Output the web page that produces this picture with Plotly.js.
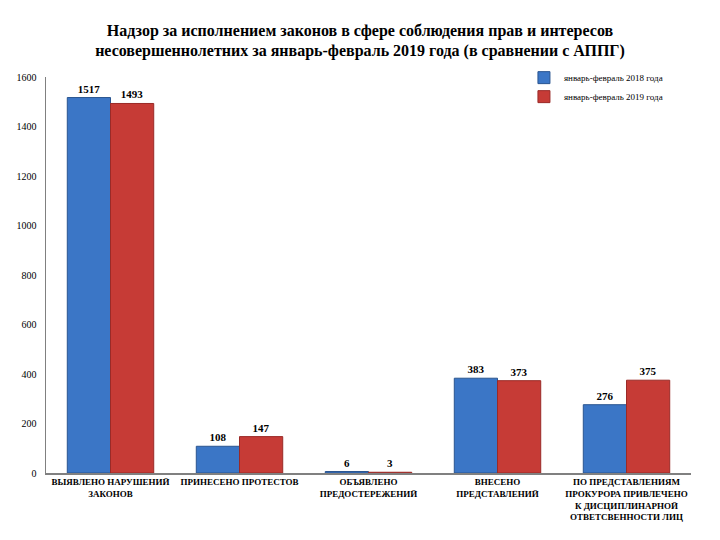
<!DOCTYPE html>
<html><head><meta charset="utf-8">
<script src="https://cdn.plot.ly/plotly-3.0.1.min.js"></script>
<style>body{margin:0;background:#fff}#chart{width:720px;height:540px}</style>
</head><body><div id="chart"></div>
<script>
const categories = [
  "ВЫЯВЛЕНО НАРУШЕНИЙ<br>ЗАКОНОВ",
  "ПРИНЕСЕНО ПРОТЕСТОВ",
  "ОБЪЯВЛЕНО<br>ПРЕДОСТЕРЕЖЕНИЙ",
  "ВНЕСЕНО<br>ПРЕДСТАВЛЕНИЙ",
  "ПО ПРЕДСТАВЛЕНИЯМ<br>ПРОКУРОРА ПРИВЛЕЧЕНО<br>К ДИСЦИПЛИНАРНОЙ<br>ОТВЕТСВЕННОСТИ ЛИЦ"
];
const series2018 = [1517, 108, 6, 383, 276];
const series2019 = [1493, 147, 3, 373, 375];
const seriesNames = ["январь-февраль 2018 года", "январь-февраль 2019 года"];
const yTicks = [0, 200, 400, 600, 800, 1000, 1200, 1400, 1600];

const serif = "Liberation Serif";
const mk = (y, name, color, line) => ({
  type: "bar", x: categories, y: y, name: name,
  marker: {color: color, line: {color: line, width: 1}},
  text: y.map(String), textposition: "outside", cliponaxis: false,
  textfont: {family: serif, size: 11, color: "#000", weight: "bold"}
});
const data = [
  mk(series2018, seriesNames[0], "#3b76c6", "#2a5590"),
  mk(series2019, seriesNames[1], "#c63b36", "#9a2a27")
];
const layout = {
  width: 720, height: 540,
  margin: {l: 46, r: 29, t: 77, b: 67},
  paper_bgcolor: "#fff", plot_bgcolor: "#fff",
  font: {family: serif},
  title: {
    text: "<b>Надзор за исполнением законов в сфере соблюдения прав и интересов<br>несовершеннолетних за январь-февраль 2019 года (в сравнении с АППГ)</b>",
    font: {family: serif, size: 16, color: "#000"},
    x: 0.5, xanchor: "center", y: 0.934, yanchor: "top"
  },
  bargap: 0.33, bargroupgap: 0,
  xaxis: {
    showline: true, linecolor: "#808080", linewidth: 1.5,
    tickfont: {family: serif, size: 9, color: "#000", weight: "bold"},
    ticks: "", automargin: false, tickangle: 0
  },
  yaxis: {
    range: [0, 1600], tickvals: yTicks, showgrid: false, zeroline: false,
    showline: true, linecolor: "#808080", linewidth: 1.5,
    tickfont: {family: serif, size: 10, color: "#000"},
    ticks: "", ticklabelstandoff: 6, automargin: false
  },
  legend: {
    x: 0.741, y: 1.035, xanchor: "left", yanchor: "top",
    font: {family: serif, size: 9, color: "#000"},
    tracegroupgap: 0, itemwidth: 30, bgcolor: "rgba(0,0,0,0)"
  },
  showlegend: true
};
Plotly.newPlot("chart", data, layout, {displayModeBar: false, staticPlot: true});
</script></body></html>
